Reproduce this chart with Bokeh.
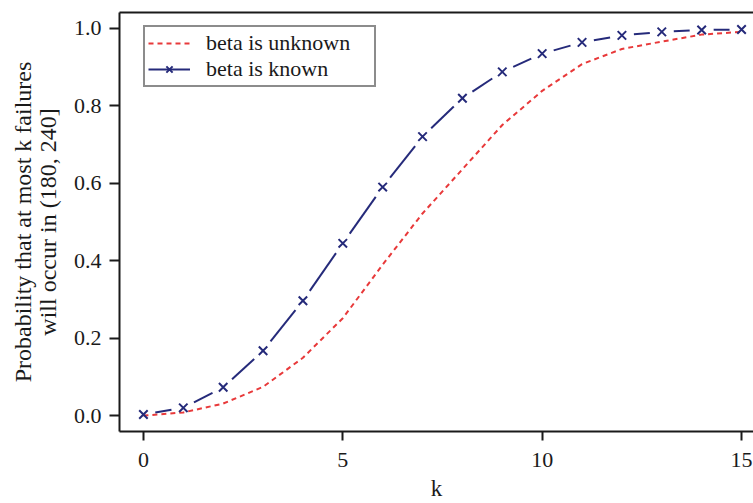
import math
from bokeh.plotting import figure
from bokeh.models import (Range1d, FixedTicker, PrintfTickFormatter, LinearAxis,
                          Legend, LegendItem)
from bokeh.embed import file_html
from bokeh.resources import INLINE

# ---- data ----
k = list(range(16))
p_unknown = [0.001, 0.009, 0.032, 0.075, 0.150, 0.252, 0.390, 0.522,
             0.636, 0.750, 0.838, 0.907, 0.946, 0.965, 0.983, 0.990]
p_known = [0.004, 0.021, 0.074, 0.168, 0.297, 0.445, 0.590, 0.720,
           0.819, 0.887, 0.934, 0.963, 0.981, 0.990, 0.995, 0.996]
x_ticks = [0, 5, 10, 15]
y_ticks = [0.0, 0.2, 0.4, 0.6, 0.8, 1.0]
label_unknown = "beta is unknown"
label_known = "beta is known"
x_title = "k"
y_title = "Probability that at most k failures\nwill occur in (180, 240]"

FONT = "Liberation Serif"
RED = "#e8393a"
NAVY = "#252a7a"
INK = "#1a1a1a"

W, H = 753, 503
ML, MR, MT, MB = 119, 0, 12, 72
x0, x1 = -0.6, 15.3
y0, y1 = -0.04, 1.04

p = figure(width=W, height=H, output_backend="svg", toolbar_location=None,
           x_range=Range1d(x0, x1), y_range=Range1d(y0, y1),
           min_border_left=ML, min_border_right=MR, min_border_top=MT,
           min_border_bottom=MB)
p.outline_line_color = None
p.xgrid.visible = False
p.ygrid.visible = False
p.background_fill_color = "white"
p.border_fill_color = "white"

# red dashed curve
red = p.line(k, p_unknown, line_color=RED, line_width=2, line_dash="5 4")

# blue "type b" line: segments with gaps around the points
fx = (W - ML - MR) / (x1 - x0)
fy = (H - MT - MB) / (y1 - y0)
gap = 12.0
sx0, sy0, sx1, sy1 = [], [], [], []
for i in range(len(k) - 1):
    ax, ay, bx, by = k[i], p_known[i], k[i + 1], p_known[i + 1]
    dx, dy = (bx - ax) * fx, (by - ay) * fy
    L = math.hypot(dx, dy)
    if L <= 2 * gap:
        continue
    t = gap / L
    sx0.append(ax + t * (bx - ax)); sy0.append(ay + t * (by - ay))
    sx1.append(bx - t * (bx - ax)); sy1.append(by - t * (by - ay))
seg = p.segment(sx0, sy0, sx1, sy1, line_color=NAVY, line_width=2)
pts = p.scatter(k, p_known, marker="x", size=12, line_color=NAVY, line_width=2)

# axes
for ax in (p.xaxis[0], p.yaxis[0]):
    ax.axis_line_color = INK
    ax.axis_line_width = 2
    ax.major_tick_line_color = INK
    ax.major_tick_line_width = 2
    ax.major_tick_in = 0
    ax.minor_tick_line_color = None
    ax.major_label_text_font = FONT
    ax.major_label_text_font_size = "22px"
    ax.major_label_text_color = INK
    ax.axis_label_text_font = FONT
    ax.axis_label_text_font_style = "normal"
    ax.axis_label_text_color = INK

p.xaxis.ticker = FixedTicker(ticks=x_ticks)
p.xaxis.major_tick_out = 9
p.xaxis.major_label_standoff = 12
p.xaxis.axis_label = x_title
p.xaxis.axis_label_text_font_size = "23px"
p.xaxis.axis_label_standoff = 6

p.yaxis.ticker = FixedTicker(ticks=y_ticks)
p.yaxis.formatter = PrintfTickFormatter(format="%.1f")
p.yaxis.major_tick_out = 10
p.yaxis.major_label_standoff = 8
p.yaxis.axis_label = y_title
p.yaxis.axis_label_text_font_size = "24px"
p.yaxis.axis_label_text_line_height = 0.95
p.yaxis.axis_label_standoff = 10

top = LinearAxis(ticker=FixedTicker(ticks=[]), axis_line_color=INK, axis_line_width=2,
                 major_tick_line_color=None, minor_tick_line_color=None,
                 major_label_text_font_size="0px")
p.add_layout(top, "above")

legend = Legend(items=[LegendItem(label=label_unknown, renderers=[red]),
                       LegendItem(label=label_known, renderers=[seg, pts])],
                location=(24, 344), orientation="vertical")
legend.label_text_font = FONT
legend.label_text_font_size = "22px"
legend.label_text_color = INK
legend.label_standoff = 16
legend.glyph_width = 42
legend.glyph_height = 22
legend.label_height = 22
legend.label_width = 165
legend.spacing = 0
legend.padding = 3
legend.margin = 0
legend.border_line_color = INK
legend.border_line_width = 2
legend.background_fill_alpha = 1
p.add_layout(legend)

open("out.html", "w").write(file_html(p, INLINE))
